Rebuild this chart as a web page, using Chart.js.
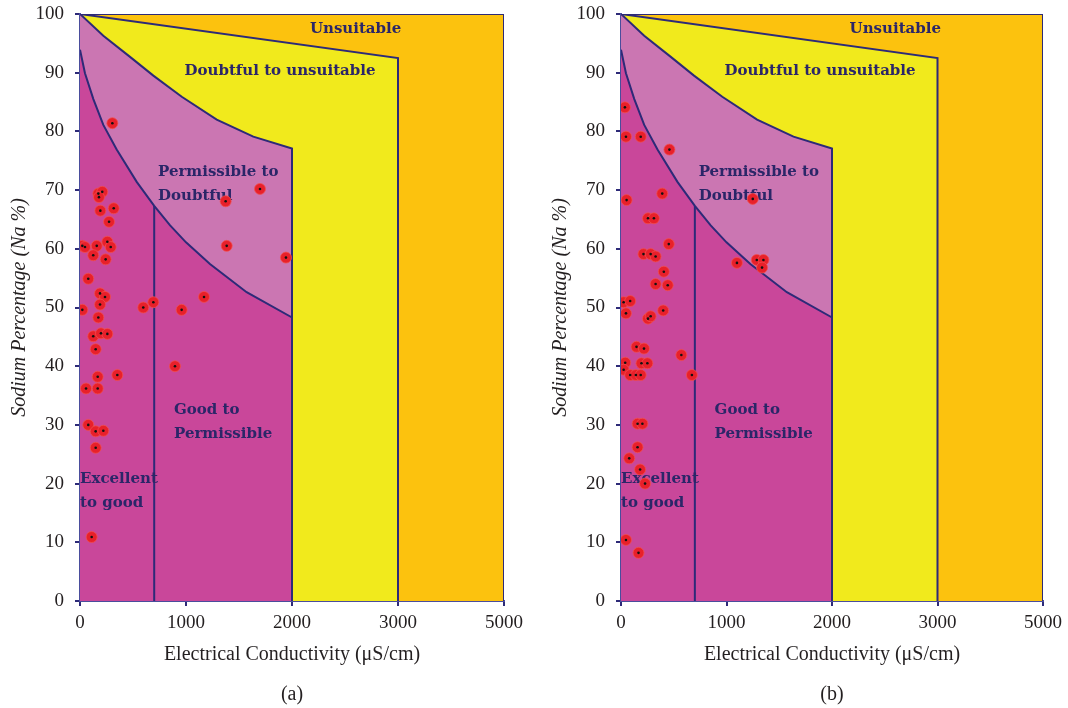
<!DOCTYPE html>
<html>
<head>
<meta charset="utf-8">
<script src="https://cdn.jsdelivr.net/npm/chart.js@4.4.1/dist/chart.umd.min.js"></script>
<style>
  body { margin: 0; background: #fff; }
  #wrap { position: relative; width: 1068px; height: 708px; }
  canvas { position: absolute; top: 0; }
</style>
</head>
<body>
<div id="wrap">
  <canvas id="chartA" width="534" height="708" style="left:0"></canvas>
  <canvas id="chartB" width="527" height="708" style="left:541px"></canvas>
</div>
<script>
// x axis: equal spacing, last position is labelled 5000
var ecTicks = [0, 1000, 2000, 3000, 4000];
var ecTickLabels = ['0', '1000', '2000', '3000', '5000'];

// class boundaries [EC, Na%]
var unsuitableLine = [[0, 100], [3000, 92.5], [3000, 0]];
var doubtfulCurve = [[0, 100], [220, 96.3], [472, 92.7], [692, 89.5], [960, 85.9], [1290, 82.0], [1635, 79.1], [2000, 77.1]];
var permissibleCurve = [[0, 93.9], [47, 89.9], [126, 85.5], [220, 81.1], [346, 76.9], [535, 71.4], [700, 67.3], [850, 64.0], [1000, 61.1], [1226, 57.4], [1572, 52.6], [2000, 48.3]];
var goodLine = [[700, 67.3], [700, 0]];

// samples, panel (a)
var ecA = [305, 173, 210, 179, 192, 318, 274, 22, 47, 158, 125, 258, 290, 242, 78, 189, 236, 189, 22, 597, 692, 173, 125, 198, 258, 148, 167, 352, 57, 167, 78, 148, 220, 148, 110, 959, 896, 1170, 1374, 1698, 1384, 1943];
var naA = [81.4, 69.4, 69.7, 68.8, 66.5, 66.9, 64.6, 60.5, 60.3, 60.5, 58.9, 61.2, 60.3, 58.2, 54.9, 52.4, 51.8, 50.5, 49.6, 50.0, 50.9, 48.3, 45.1, 45.6, 45.5, 42.9, 38.2, 38.5, 36.2, 36.2, 30.0, 28.9, 29.0, 26.1, 10.9, 49.6, 40.0, 51.8, 68.1, 70.2, 60.5, 58.5];

// samples, panel (b)
var ecB = [37, 47, 187, 459, 53, 391, 1249, 256, 312, 453, 213, 281, 328, 406, 328, 443, 1099, 1287, 1350, 1337, 25, 87, 47, 256, 281, 400, 147, 218, 572, 40, 25, 194, 250, 87, 141, 187, 672, 157, 203, 157, 78, 181, 228, 47, 166];
var naB = [84.1, 79.1, 79.1, 76.9, 68.3, 69.4, 68.5, 65.2, 65.2, 60.8, 59.1, 59.1, 58.7, 56.1, 54.0, 53.8, 57.6, 58.1, 58.1, 56.8, 50.9, 51.1, 49.0, 48.1, 48.5, 49.5, 43.3, 43.0, 41.9, 40.6, 39.4, 40.5, 40.5, 38.5, 38.5, 38.5, 38.5, 30.2, 30.2, 26.2, 24.3, 22.4, 20.0, 10.4, 8.2];

var zoneLabels = [
  { lines: ['Unsuitable'], x: 2600, y: 97.4, align: 'center' },
  { lines: ['Doubtful to unsuitable'], x: 1887, y: 90.3, align: 'center' },
  { lines: ['Permissible to', 'Doubtful'], x: 736, y: 73.0, align: 'left' },
  { lines: ['Good to', 'Permissible'], x: 887, y: 32.6, align: 'left' },
  { lines: ['Excellent', 'to good'], x: 0, y: 20.8, align: 'left' }
];

var navy = '#2D2A78';
var textDark = '#231F20';

function pts(arr) {
  return arr.map(function (p) { return { x: p[0], y: p[1] }; });
}

var labelPlugin = {
  id: 'zoneLabels',
  beforeDatasetDraw: function (chart, args) {
    if (chart.data.datasets[args.index].label !== 'samples') return;
    var ctx = chart.ctx, xs = chart.scales.x, ys = chart.scales.y;
    ctx.save();
    ctx.fillStyle = '#2B2668';
    ctx.font = 'bold 15px "DejaVu Serif"';
    ctx.textBaseline = 'middle';
    zoneLabels.forEach(function (z) {
      ctx.textAlign = z.align;
      z.lines.forEach(function (t, i) {
        ctx.fillText(t, xs.getPixelForValue(z.x), ys.getPixelForValue(z.y) + i * 24);
      });
    });
    ctx.restore();
  },
  afterDraw: function (chart, args, opts) {
    var ctx = chart.ctx, a = chart.chartArea;
    ctx.save();
    ctx.font = '20px "Liberation Serif"';
    ctx.fillStyle = textDark;
    ctx.textAlign = 'center';
    ctx.textBaseline = 'middle';
    ctx.fillText(opts.caption, (a.left + a.right) / 2, 695);
    ctx.restore();
  }
};

function makeChart(id, ec, na, caption) {
  var samples = ec.map(function (v, i) { return { x: v, y: na[i] }; });
  var frame = [[0, 0], [0, 100], [4000, 100], [4000, 0]];
  var datasets = [
    { label: 'dots', data: samples, showLine: false, pointRadius: 1.3, pointBackgroundColor: '#111', pointBorderWidth: 0, order: 0 },
    { label: 'samples', data: samples, showLine: false, pointRadius: 5.5, pointBackgroundColor: '#E8202A', pointBorderColor: 'rgba(240,80,80,0.75)', pointBorderWidth: 1, order: 1 },
    { data: pts(goodLine), borderColor: navy, borderWidth: 2, pointRadius: 0, fill: false, order: 2 },
    { data: pts(permissibleCurve.concat([[2000, 0]])), borderColor: navy, borderWidth: 2, pointRadius: 0, fill: false, order: 2 },
    { data: pts(doubtfulCurve.concat([[2000, 0]])), borderColor: navy, borderWidth: 2, pointRadius: 0, fill: false, order: 2 },
    { data: pts(unsuitableLine), borderColor: navy, borderWidth: 2, pointRadius: 0, fill: false, order: 2 },
    { data: pts([[0, 100], [4000, 100], [4000, 0]]), borderColor: navy, borderWidth: 2, pointRadius: 0, fill: false, order: 2 },
    { data: pts(permissibleCurve.concat([[2000, 0], [0, 0]])), backgroundColor: '#C9479A', borderWidth: 0, pointRadius: 0, fill: 'shape', order: 3 },
    { data: pts(doubtfulCurve.concat([[2000, 0], [0, 0]])), backgroundColor: '#CB76B2', borderWidth: 0, pointRadius: 0, fill: 'shape', order: 4 },
    { data: pts(unsuitableLine.concat([[0, 0]])), backgroundColor: '#F1EA1C', borderWidth: 0, pointRadius: 0, fill: 'shape', order: 5 },
    { data: pts(frame), backgroundColor: '#FCC20E', borderWidth: 0, pointRadius: 0, fill: 'shape', order: 6 }
  ];
  datasets.forEach(function (d) { d.tension = 0; });

  return new Chart(document.getElementById(id), {
    type: 'line',
    data: { datasets: datasets },
    options: {
      responsive: false,
      animation: false,
      layout: { padding: { top: 14, right: id === 'chartA' ? 30 : 25, bottom: 0, left: 0 } },
      plugins: {
        legend: { display: false },
        tooltip: { enabled: false },
        zoneLabels: { caption: caption }
      },
      scales: {
        x: {
          type: 'linear',
          min: 0,
          max: 4000,
          afterFit: function (s) { s.height = 107; s.paddingLeft = 0; s.paddingRight = 0; },
          afterBuildTicks: function (s) { s.ticks = ecTicks.map(function (v) { return { value: v }; }); },
          ticks: {
            autoSkip: false,
            maxRotation: 0,
            padding: 6,
            color: textDark,
            font: { family: 'Liberation Serif', size: 19 },
            callback: function (v) { var i = ecTicks.indexOf(v); return i >= 0 ? ecTickLabels[i] : ''; }
          },
          grid: { drawOnChartArea: false, drawTicks: true, tickLength: 5, color: navy, lineWidth: 2 },
          border: { color: '#4A4D9C', width: 2 },
          title: {
            display: true,
            text: 'Electrical Conductivity (\u03bcS/cm)',
            color: textDark,
            font: { family: 'Liberation Serif', size: 20 },
            padding: { top: 0, bottom: 41 }
          }
        },
        y: {
          min: 0,
          max: 100,
          afterFit: function (s) { s.width = 80; s.paddingTop = 0; s.paddingBottom = 0; },
          ticks: {
            stepSize: 10,
            padding: 11,
            color: textDark,
            font: { family: 'Liberation Serif', size: 19 }
          },
          grid: { drawOnChartArea: false, drawTicks: true, tickLength: 5, color: navy, lineWidth: 2 },
          border: { color: '#4A4D9C', width: 2 },
          title: {
            display: true,
            text: 'Sodium Percentage (Na %)',
            color: textDark,
            font: { family: 'Liberation Serif', size: 20, style: 'italic' },
            padding: { top: 8, bottom: 0 }
          }
        }
      }
    },
    plugins: [labelPlugin]
  });
}

makeChart('chartA', ecA, naA, '(a)');
makeChart('chartB', ecB, naB, '(b)');
</script>
</body>
</html>
